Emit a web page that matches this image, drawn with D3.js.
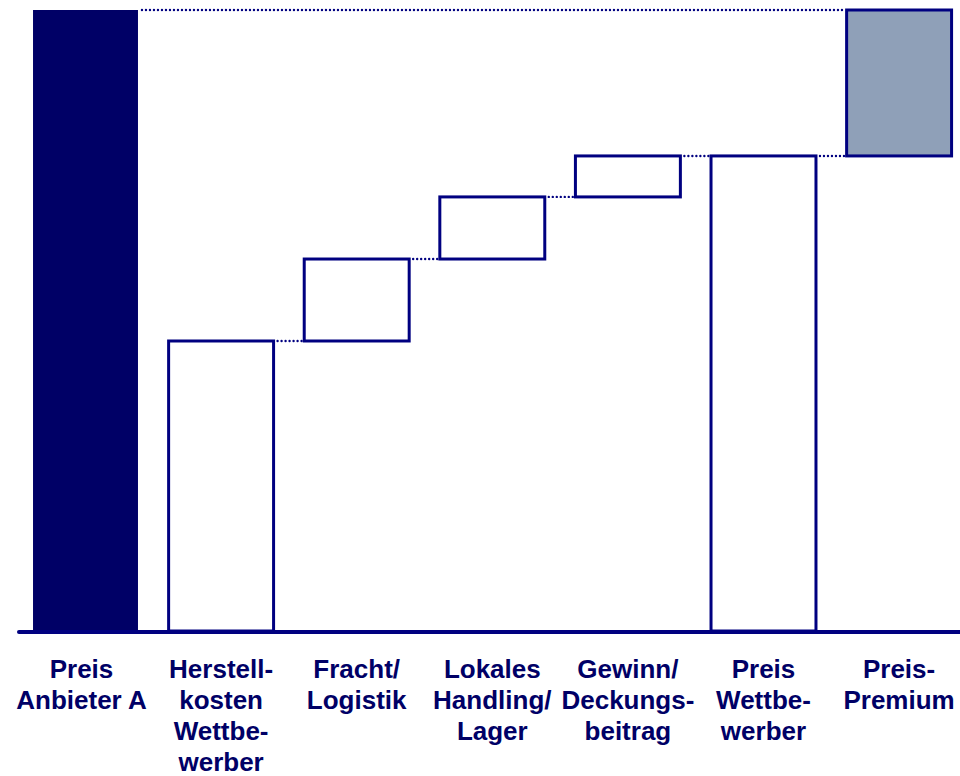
<!DOCTYPE html>
<html>
<head>
<meta charset="utf-8">
<script src="https://cdn.jsdelivr.net/npm/d3@7"></script>
<style>
  body { margin: 0; background: #fff; }
  svg { display: block; }
</style>
</head>
<body>
<svg id="chart" width="960" height="776"></svg>
<script>
// categories (label lines) and waterfall values
const labels = [
  ["Preis", "Anbieter A"],
  ["Herstell-", "kosten", "Wettbe-", "werber"],
  ["Fracht/", "Logistik"],
  ["Lokales", "Handling/", "Lager"],
  ["Gewinn/", "Deckungs-", "beitrag"],
  ["Preis", "Wettbe-", "werber"],
  ["Preis-", "Premium"]
];
const values = [100, 46.7, 13.2, 10, 6.6, 76.5, 23.5];
const kinds = ["total", "step", "step", "step", "step", "total", "premium"];

const navy = "#000080";
const svg = d3.select("#chart");

// build start/end for each bar
let run = 0;
const bars = values.map((v, i) => {
  let y0, y1;
  if (kinds[i] === "total") { y0 = 0; y1 = v; }
  else if (kinds[i] === "premium") { y0 = values[5]; y1 = values[5] + v; }
  else { y0 = run; y1 = run + v; run = y1; }
  return { i, y0, y1, kind: kinds[i] };
});

const x = d3.scaleBand()
  .domain(d3.range(labels.length))
  .range([17.7, 966.9])
  .paddingInner(0.226)
  .paddingOuter(0.113);

const y = d3.scaleLinear().domain([0, 100]).range([631, 10]);

// dotted connectors
const links = [];
for (let i = 1; i < bars.length - 1; i++) {
  links.push({ from: i, to: i + 1, v: bars[i].y1 });
}
links.push({ from: 0, to: 6, v: bars[0].y1 });

svg.selectAll("line.link").data(links).enter().append("line")
  .attr("class", "link")
  .attr("x1", d => x(d.from) + x.bandwidth() + 4)
  .attr("x2", d => x(d.to) - 2)
  .attr("y1", d => y(d.v))
  .attr("y2", d => y(d.v))
  .attr("stroke", navy)
  .attr("stroke-width", 2.4)
  .attr("stroke-linecap", "round")
  .attr("stroke-dasharray", "0,4");

// bars
svg.selectAll("rect.bar").data(bars).enter().append("rect")
  .attr("class", "bar")
  .attr("x", d => x(d.i))
  .attr("width", x.bandwidth())
  .attr("y", d => y(d.y1))
  .attr("height", d => y(d.y0) - y(d.y1))
  .attr("fill", d => d.i === 0 ? "#000066" : d.kind === "premium" ? "#8fa0b8" : "#fff")
  .attr("stroke", d => d.i === 0 ? "none" : navy)
  .attr("stroke-width", 3);

// baseline
svg.append("line")
  .attr("x1", 19).attr("x2", 962)
  .attr("y1", y(0) + 1).attr("y2", y(0) + 1)
  .attr("stroke", navy)
  .attr("stroke-width", 4)
  .attr("stroke-linecap", "round");

// category labels
const lab = svg.selectAll("text.cat").data(labels).enter().append("text")
  .attr("class", "cat")
  .attr("text-anchor", "middle")
  .attr("font-family", "'Liberation Sans', Arial, sans-serif")
  .attr("font-weight", "bold")
  .attr("font-size", 26)
  .attr("fill", "#000066");

lab.selectAll("tspan").data((d, i) => d.map(t => ({ t, i }))).enter().append("tspan")
  .attr("x", d => x(d.i) + x.bandwidth() / 2 - (d.i === 0 ? 4 : 0))
  .attr("y", (d, j) => 678 + j * 31)
  .text(d => d.t);
</script>
</body>
</html>
